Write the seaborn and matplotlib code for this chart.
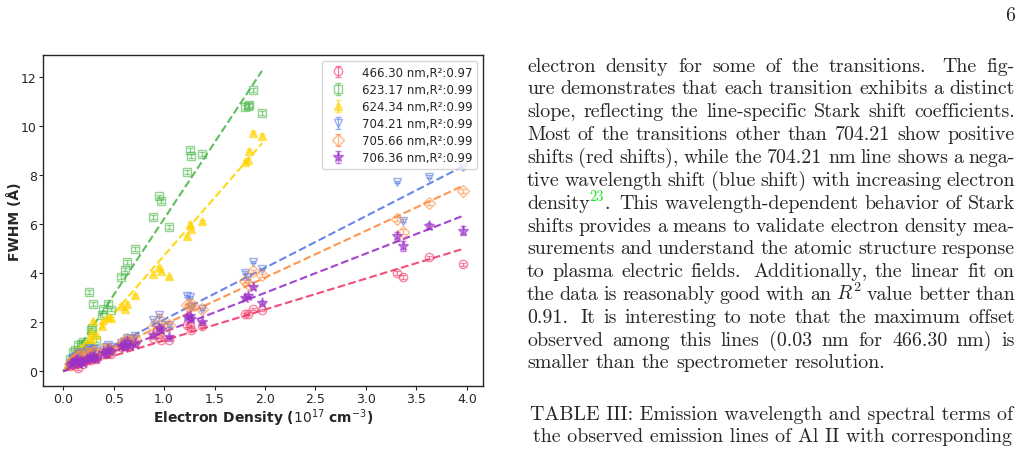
import numpy as np
import pandas as pd
import matplotlib
matplotlib.use("Agg")
import matplotlib.pyplot as plt
import seaborn as sns

# ---- data ----
labels = ["466.30 nm,R\u00b2:0.97", "623.17 nm,R\u00b2:0.99", "624.34 nm,R\u00b2:0.99",
          "704.21 nm,R\u00b2:0.99", "705.66 nm,R\u00b2:0.99", "706.36 nm,R\u00b2:0.99"]

ne_gy = [0.07, 0.10, 0.12, 0.15, 0.18, 0.20, 0.22, 0.26, 0.28, 0.29, 0.30, 0.33, 0.38,
         0.39, 0.44, 0.47, 0.57, 0.61, 0.63, 0.71, 0.89, 0.95, 0.97, 1.05, 1.23, 1.26,
         1.27, 1.38, 1.80, 1.83, 1.84, 1.88, 1.97]
ne_all = [0.07, 0.10, 0.12, 0.15, 0.18, 0.20, 0.26, 0.28, 0.30, 0.33, 0.39, 0.44, 0.47,
          0.57, 0.61, 0.63, 0.71, 0.89, 0.95, 0.97, 1.05, 1.23, 1.26, 1.27, 1.38, 1.80,
          1.83, 1.88, 1.97, 3.31, 3.37, 3.62, 3.96,
          0.09, 0.13, 0.16, 0.24, 0.31, 0.42, 0.60, 0.66]

fwhm_466 = [0.20, 0.30, 0.35, 0.12, 0.40, 0.30, 0.50, 0.45, 0.55, 0.50, 0.70, 0.78, 0.72,
            1.00, 1.05, 1.25, 1.15, 1.36, 1.53, 1.29, 1.29, 1.87, 1.85, 1.70, 1.85, 2.32,
            2.35, 2.55, 2.51, 4.00, 3.84, 4.66, 4.36,
            0.25, 0.28, 0.33, 0.45, 0.55, 0.70, 1.05, 1.10]
fwhm_623 = [0.50, 0.79, 0.86, 1.06, 1.13, 1.20, 1.05, 3.23, 1.67, 1.76, 2.74, 1.26, 2.28,
            2.55, 2.76, 2.52, 3.83, 4.15, 4.44, 5.00, 6.28, 7.13, 6.95, 5.88, 8.12, 9.03,
            8.78, 8.86, 10.79, 10.83, 10.87, 11.46, 10.53]
fwhm_624 = [0.40, 0.60, 0.75, 0.85, 0.95, 1.00, 1.10, 1.30, 1.60, 1.25, 2.04, 1.47, 1.85,
            2.08, 2.20, 2.17, 2.68, 2.55, 2.75, 3.10, 3.98, 4.25, 4.11, 3.88, 5.51, 6.01,
            5.81, 6.11, 8.55, 8.62, 9.00, 9.72, 9.61]
fwhm_704 = [0.35, 0.55, 0.60, 0.70, 0.80, 0.75, 0.95, 0.85, 0.90, 0.80, 0.86, 1.06, 0.99,
            1.15, 1.25, 1.35, 1.45, 2.08, 2.28, 1.87, 1.87, 3.07, 3.03, 2.62, 2.55, 4.02,
            3.83, 4.45, 4.18, 7.71, 6.15, 7.94, 8.32,
            0.50, 0.62, 0.72, 0.85, 0.92, 0.98, 1.20, 1.30]
fwhm_705 = [0.30, 0.45, 0.50, 0.60, 0.65, 0.60, 0.75, 0.70, 0.80, 0.70, 0.90, 0.95, 0.88,
            1.10, 1.20, 1.33, 1.30, 1.80, 2.14, 1.74, 1.90, 2.69, 2.66, 2.75, 2.55, 3.68,
            3.57, 4.07, 3.91, 6.21, 5.70, 6.85, 7.34,
            0.42, 0.55, 0.62, 0.72, 0.78, 0.88, 1.15, 1.22]
fwhm_706 = [0.25, 0.35, 0.40, 0.45, 0.40, 0.35, 0.55, 0.60, 0.55, 0.50, 0.75, 0.85, 0.82,
            1.05, 1.08, 1.18, 1.10, 1.47, 1.76, 1.67, 1.40, 2.21, 2.25, 2.14, 2.01, 2.98,
            3.09, 3.42, 2.80, 5.51, 5.10, 5.92, 5.74,
            0.32, 0.45, 0.30, 0.50, 0.62, 0.72, 1.00, 1.05]

err_466 = [0.05] * 29 + [0.08, 0.08, 0.06, 0.06] + [0.04] * 8
err_623 = [0.08] * 33
err_624 = [0.06] * 33
err_704 = [0.05] * 29 + [0.05, 0.08, 0.06, 0.08] + [0.04] * 8
err_705 = [0.06] * 29 + [0.08, 0.10, 0.08, 0.08] + [0.04] * 8
err_706 = [0.05] * 29 + [0.18, 0.20, 0.12, 0.18] + [0.04] * 8

# linear fits (slope, intercept) as drawn
slopes = [1.26, 6.22, 4.72, 2.11, 1.91, 1.60]
intercepts = [0.0, 0.0, 0.0, 0.0, 0.0, 0.0]

xs = [ne_all, ne_gy, ne_gy, ne_all, ne_all, ne_all]
ys = [fwhm_466, fwhm_623, fwhm_624, fwhm_704, fwhm_705, fwhm_706]
errs = [err_466, err_623, err_624, err_704, err_705, err_706]

colors = ["#f03c6a", "#4cb84c", "#ffd500", "#5a7ae6", "#ff8c3c", "#9b30c8"]
markers = ["o", "s", "^", "v", "D", "*"]
filled = [False, False, True, False, False, True]

sns.set_style("ticks", {"xtick.major.size": 3.5, "ytick.major.size": 3.5})
plt.rcParams["font.family"] = ["DejaVu Sans"]

fig = plt.figure(figsize=(10.24, 4.52), dpi=100)
ax = fig.add_axes([43 / 1024, 1 - 387 / 452, 440 / 1024, 331 / 452])

handles = []
for i in range(6):
    x = np.array(xs[i])
    y = np.array(ys[i])
    fc = colors[i] if filled[i] else "none"
    ms = 8 if markers[i] == "*" else 6
    h = ax.errorbar(x, y, yerr=errs[i], fmt=markers[i], color=colors[i], mfc=fc,
                    mec=colors[i], ms=ms, capsize=2, elinewidth=1, alpha=0.6,
                    label=labels[i])
    handles.append(h)
    xf = np.array([0, x.max()])
    fit = pd.DataFrame({"x": xf, "y": slopes[i] * xf + intercepts[i]})
    sns.lineplot(data=fit, x="x", y="y", ax=ax, color=colors[i], linestyle="--",
                 lw=1.5, alpha=0.9)

ax.set_xlim(-0.2, 4.16)
ax.set_ylim(-0.6, 12.9)
ax.set_xticks(np.arange(0, 4.01, 0.5))
ax.set_yticks(np.arange(0, 12.1, 2))
ax.tick_params(labelsize=9, length=3, pad=1.5)
ax.set_xlabel("Electron Density ($10^{17}$ cm$^{-3}$)", fontsize=10, fontweight="bold", labelpad=1)
ax.set_ylabel("FWHM (\u00c5)", fontsize=10, fontweight="bold")
ax.yaxis.set_label_coords(-0.048, 0.5)
for s in ax.spines.values():
    s.set_visible(True)
    s.set_linewidth(1.0)
ax.legend(handles=handles, labels=labels, loc="upper right", fontsize=8.5,
          labelspacing=0.35, handletextpad=1.0)

# ---- text column on the right ----
serif = ["cmr10", "DejaVu Serif"]
fs = 14.4
renderer = fig.canvas.get_renderer()


def px(x, y):
    return x / 1024, 1 - y / 452


def place_word(word, x, y):
    cur = x
    for seg, kw in word:
        kw = dict(kw)
        dy = kw.pop("dy", 0)
        size = kw.pop("size", fs)
        t = fig.text(*px(cur, y - dy), seg, fontsize=size, family=serif,
                     va="baseline", ha="left", math_fontfamily="cm", **kw)
        cur += t.get_window_extent(renderer).width
    return cur - x


def word_width(word):
    total = 0
    for seg, kw in word:
        kw = dict(kw)
        kw.pop("dy", 0)
        size = kw.pop("size", fs)
        t = fig.text(0, 0, seg, fontsize=size, family=serif, math_fontfamily="cm", **kw)
        total += t.get_window_extent(renderer).width
        t.remove()
    return total


def draw_line(words, y, x0=527, x1=1015, justify=True):
    # words: list of (word, gap weight after it)
    items = [([(w, {})] if isinstance(w, str) else w, g) for w, g in words]
    widths = [word_width(w) for w, _ in items]
    weights = [g for _, g in items[:-1]]
    if justify and len(items) > 1:
        unit = (x1 - x0 - sum(widths)) / sum(weights)
    else:
        unit = word_width([(" ", {})])
    x = x0
    for (w, g), wd in zip(items, widths):
        place_word(w, x, y)
        x += wd + g * unit


def split_words(line):
    out = []
    for chunk in line.split("  "):
        for w in chunk.split():
            out.append([w, 1.0])
        out[-1][1] = 1.6
    out[-1][1] = 1.0
    return [tuple(o) for o in out]


para = [
    "electron density for some of the transitions.  The fig-",
    "ure demonstrates that each transition exhibits a distinct",
    "slope, reflecting the line-specific Stark shift coefficients.",
    "Most of the transitions other than 704.21 show positive",
    "shifts (red shifts), while the 704.21 nm line shows a nega-",
    "tive wavelength shift (blue shift) with increasing electron",
    None,
    "shifts provides a means to validate electron density mea-",
    "surements and understand the atomic structure response",
    "to plasma electric fields.  Additionally, the linear fit on",
    "the data is reasonably good with an $R^2$ value better than",
    "0.91.  It is interesting to note that the maximum offset",
    "observed among this lines (0.03 nm for 466.30 nm) is",
    "smaller than the spectrometer resolution.",
]
baselines = [71.5, 94.3, 117.3, 140, 163.3, 186, 209, 231.7, 254.3, 277.3, 300.3, 323.3, 346, 368.3]

for i, line in enumerate(para):
    if line is None:
        words = [([("density", {}), ("23", {"size": fs * 0.72, "dy": 8, "color": "#1ee61e"}),
                   (".", {})], 1.6)] + split_words("This wavelength-dependent behavior of Stark")
    else:
        words = split_words(line)
    draw_line(words, baselines[i], justify=(i != len(para) - 1))

fig.text(*px(772, 420), "TABLE III: Emission wavelength and spectral terms of",
         fontsize=fs, family=serif, ha="center", va="baseline")
fig.text(*px(772, 442), "the observed emission lines of Al II with corresponding",
         fontsize=fs, family=serif, ha="center", va="baseline")
fig.text(*px(1015, 21), "6", fontsize=fs, family=serif, ha="right", va="baseline")

fig.savefig("out.png", dpi=100)
